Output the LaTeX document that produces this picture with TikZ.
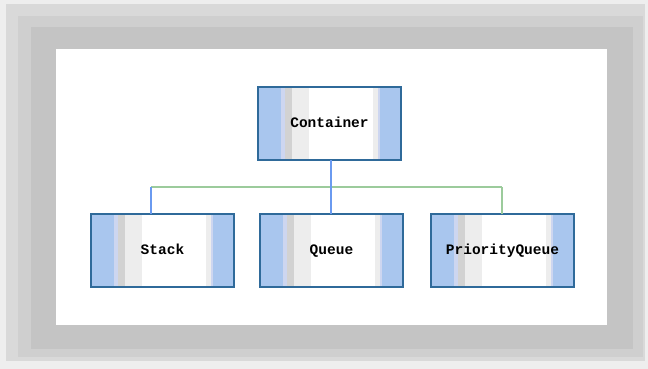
\documentclass[tikz,border=0pt]{standalone}
\usepackage{fontspec}
\setmonofont{Liberation Mono}
\definecolor{bg0}{HTML}{EEEEEE}
\definecolor{bg1}{HTML}{D9D9D9}
\definecolor{bg2}{HTML}{CFCFCF}
\definecolor{bg3}{HTML}{C4C4C4}
\definecolor{bandblue}{HTML}{A9C6EE}
\definecolor{bandlav}{HTML}{CDD6F0}
\definecolor{bandgray}{HTML}{D2D2D2}
\definecolor{bandlight}{HTML}{EDEDED}
\definecolor{boxborder}{HTML}{2F6A9A}
\definecolor{linkblue}{HTML}{6A9AF0}
\definecolor{linkgreen}{HTML}{9CCB9C}
\tikzset{
  cbox/.style={minimum width=143pt, minimum height=73pt, inner sep=0pt,
    text height=9pt, text depth=2pt,
    font=\ttfamily\bfseries\fontsize{14.5}{16}\selectfont,
    path picture={
      \coordinate (ppsw) at (path picture bounding box.south west);
      \coordinate (ppne) at (path picture bounding box.north east);
      \fill[white] (ppsw) rectangle (ppne);
      \fill[bandblue] (ppsw) rectangle ([xshift=23pt]ppsw |- ppne);
      \fill[bandlav] ([xshift=23pt]ppsw) rectangle ([xshift=27pt]ppsw |- ppne);
      \fill[bandgray] ([xshift=27pt]ppsw) rectangle ([xshift=34pt]ppsw |- ppne);
      \fill[bandlight] ([xshift=34pt]ppsw) rectangle ([xshift=51pt]ppsw |- ppne);
      \fill[bandlight] ([xshift=-28pt]ppne |- ppsw) rectangle ([xshift=-23pt]ppne);
      \fill[bandlav] ([xshift=-23pt]ppne |- ppsw) rectangle ([xshift=-21pt]ppne);
      \fill[bandblue] ([xshift=-21pt]ppne |- ppsw) rectangle (ppne);
    }},
  cborder/.style={draw=boxborder, line width=1.8pt},
  linkb/.style={draw=linkblue, line width=1.1pt},
  linkg/.style={draw=linkgreen, line width=1.1pt}
}
\begin{document}
\begin{tikzpicture}[x=1pt,y=-1pt]
\useasboundingbox (0,0) rectangle (648,369);
\fill[bg0] (0,0) rectangle (648,369);
\fill[bg1] (6,4) rectangle (645,361);
\fill[bg2] (18,16) rectangle (643,357);
\fill[bg3] (31,27) rectangle (633,349);
\fill[white] (56,49) rectangle (607,325);

\node[cbox] (cont) at (329.5,123.5) {Container};
\node[cbox] (stack) at (162.5,250.5) {Stack};
\node[cbox] (queue) at (331.5,250.5) {Queue};
\node[cbox] (pq) at (502.5,250.5) {PriorityQueue};
\foreach \n in {cont,stack,queue,pq} \draw[cborder] (\n.south west) rectangle (\n.north east);

\coordinate (busl) at (151,187);
\coordinate (busr) at (502,187);
\coordinate (busm) at (331,187);
\draw[linkg] (busl) -- (busr);
\draw[linkb] (busm |- cont.south) -- (busm |- queue.north);
\draw[linkb] (busl) -- (busl |- stack.north);
\draw[linkg] (busr) -- (busr |- pq.north);
\end{tikzpicture}
\end{document}
